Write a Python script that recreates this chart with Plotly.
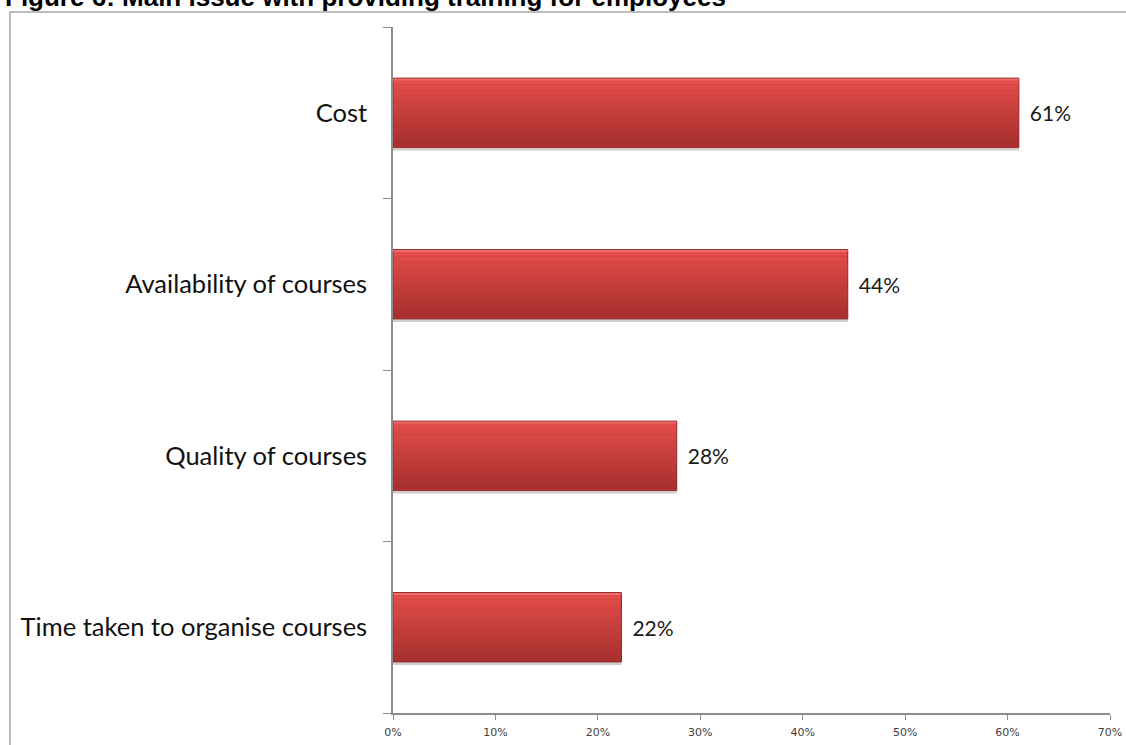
import plotly.graph_objects as go

# Survey results: main issue with providing training for employees
categories = ["Time taken to organise courses", "Quality of courses",
              "Availability of courses", "Cost"]
shares = [0.223, 0.277, 0.444, 0.611]
x_ticks = [0, 0.1, 0.2, 0.3, 0.4, 0.5, 0.6, 0.7]
x_tick_labels = ["0%", "10%", "20%", "30%", "40%", "50%", "60%", "70%"]
title_text = "Figure 6: Main issue with providing training for employees"

W, H = 1126, 745
ML, MR, MT, MB = 393, 16, 27, 32
BAR_W = 0.404

fig = go.Figure()

# soft drop shadow under each bar
fig.add_trace(go.Bar(
    x=shares, y=categories, orientation="h", width=BAR_W, offset=-BAR_W / 2 - 0.018,
    marker=dict(color="rgba(60,20,20,0.22)", line=dict(width=0)),
    hoverinfo="skip", showlegend=False,
))

# main bar body carrying the value labels
fig.add_trace(go.Bar(
    x=shares, y=categories, orientation="h", width=BAR_W, offset=-BAR_W / 2,
    marker=dict(color="#C23A37", line=dict(color="#8A2624", width=1)),
    texttemplate=" \u2009%{x:.0%}", textposition="outside", cliponaxis=False,
    textfont=dict(family="Lato, Carlito, sans-serif", size=21, color="#1a1a1a"),
    hoverinfo="skip", showlegend=False,
))

# vertical shading bands: lighter at the top, darker at the bottom
top_rgb = (0xE2, 0x4C, 0x49)
bot_rgb = (0xA8, 0x31, 0x2F)
n_bands = 12
inner = BAR_W - 0.012
band_w = inner / n_bands
for i in range(n_bands):
    t = i / (n_bands - 1)
    rgb = tuple(round(a + (b - a) * t) for a, b in zip(top_rgb, bot_rgb))
    fig.add_trace(go.Bar(
        x=[v - 0.001 for v in shares], y=categories, orientation="h",
        width=band_w * 1.02, offset=inner / 2 - (i + 1) * band_w,
        base=0.0005,
        marker=dict(color="rgb(%d,%d,%d)" % rgb, line=dict(width=0)),
        hoverinfo="skip", showlegend=False,
    ))

# bright bevel along the top edge
fig.add_trace(go.Bar(
    x=[v - 0.001 for v in shares], y=categories, orientation="h",
    width=0.012, offset=BAR_W / 2 - 0.014, base=0.0005,
    marker=dict(color="#EE6B68", line=dict(width=0)),
    hoverinfo="skip", showlegend=False,
))

fig.update_layout(
    width=W, height=H,
    margin=dict(l=ML, r=MR, t=MT, b=MB, autoexpand=False),
    paper_bgcolor="white", plot_bgcolor="white",
    barmode="overlay",
    showlegend=False,
    xaxis=dict(
        range=[0, 0.7], tickvals=x_ticks, ticktext=x_tick_labels,
        automargin=False,
        showgrid=False, zeroline=False,
        showline=True, linecolor="#8C8C8C", linewidth=1.5,
        ticks="outside", ticklen=5, tickcolor="#8C8C8C", tickwidth=1,
        tickfont=dict(family="DejaVu Sans, Verdana, sans-serif", size=11, color="#404040"),
        ticklabelstandoff=3,
    ),
    yaxis=dict(
        categoryorder="array", categoryarray=categories,
        range=[-0.5, 3.5],
        automargin=False,
        showgrid=False, zeroline=False,
        showline=True, linecolor="#8C8C8C", linewidth=1.5,
        ticks="outside", ticklen=8, tickcolor="#8C8C8C", tickwidth=1,
        tickson="boundaries",
        tickfont=dict(family="Lato, Carlito, sans-serif", size=25.5, color="#111111"),
        ticklabelstandoff=19,
    ),
)

pw = W - ML - MR
ph = H - MT - MB


def px_x(x):
    return (x - ML) / pw


def px_y(y):
    return (H - MB - y) / ph


# outer chart frame
fig.add_shape(type="rect", xref="paper", yref="paper",
              x0=px_x(10), x1=px_x(1140), y0=px_y(760), y1=px_y(12),
              line=dict(color="#A6A6A6", width=1.5), fillcolor="rgba(0,0,0,0)",
              layer="below")

# figure caption above the frame
fig.add_annotation(
    text="<b>" + title_text + "</b>", xref="paper", yref="paper",
    x=px_x(3), y=px_y(14), xanchor="left", yanchor="bottom",
    showarrow=False,
    font=dict(family="Liberation Sans, Arial, sans-serif", size=26, color="#000000"),
)

fig.write_html("out.html")
